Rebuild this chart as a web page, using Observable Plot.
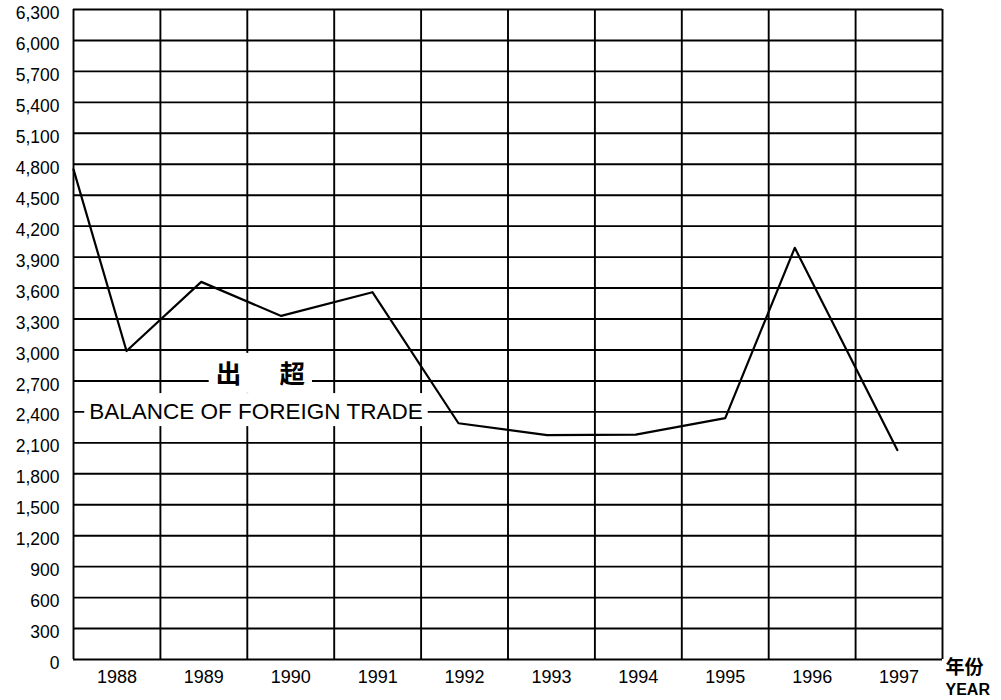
<!DOCTYPE html>
<html><head><meta charset="utf-8">
<script src="https://cdn.jsdelivr.net/npm/d3@7"></script>
<script src="https://cdn.jsdelivr.net/npm/@observablehq/plot@0.6"></script>
<style>body{margin:0;background:#fff}</style>
</head><body>
<div id="chart"></div>
<script>
// Year categories (tick labels, centred in each column)
const years = [1988, 1989, 1990, 1991, 1992, 1993, 1994, 1995, 1996, 1997];
// Column boundaries (vertical grid lines), in year units
const columnEdges = [1987.5, 1988.5, 1989.5, 1990.5, 1991.5, 1992.5, 1993.5, 1994.5, 1995.5, 1996.5, 1997.5];
// Value axis ticks
const yTicks = [0, 300, 600, 900, 1200, 1500, 1800, 2100, 2400, 2700, 3000, 3300, 3600, 3900, 4200, 4500, 4800, 5100, 5400, 5700, 6000, 6300];
// Balance of foreign trade: where each vertex sits (year units) and its value
const pointYear = [1987.5, 1988.11, 1988.97, 1989.89, 1990.94, 1991.93, 1992.95, 1993.97, 1995.0, 1995.8, 1996.98];
const balance   = [4750, 2990, 3660, 3330, 3560, 2290, 2175, 2180, 2340, 3990, 2030];
// In-chart labels
const labelText  = ["出\u3000\u2002超", "BALANCE OF FOREIGN TRADE"];
const labelYear  = [1989.65, 1989.6];
const labelValue = [2760, 2400];

const lineData = pointYear.map((x, i) => ({year: x, value: balance[i]}));
const labels = labelText.map((t, i) => ({t, x: labelYear[i], y: labelValue[i]}));

const chart = Plot.plot({
  width: 1001,
  height: 700,
  marginLeft: 73,
  marginRight: 59,
  marginTop: 9,
  marginBottom: 41,
  x: {domain: [1987.5, 1997.5], label: null},
  y: {domain: [0, 6300], label: null},
  style: {fontFamily: "'Liberation Sans', Arial, 'Noto Sans CJK SC', sans-serif", background: "#fff", color: "#000"},
  marks: [
    Plot.ruleY(yTicks, {stroke: "#000", strokeWidth: 1.9}),
    Plot.ruleX(columnEdges, {stroke: "#000", strokeWidth: 1.9}),
    Plot.line(lineData, {x: "year", y: "value", stroke: "#000", strokeWidth: 2.2}),
    Plot.axisX(years, {tickSize: 0, tickPadding: 11, fontSize: 18, tickFormat: d => String(d), label: null}),
    Plot.axisY(yTicks, {tickSize: 0, tickPadding: 14, dy: 4, fontSize: 17.5, tickFormat: d3.format(","), label: null}),
    Plot.text(labels.slice(0, 1), {x: "x", y: "y", text: "t", fontSize: 25.5, fontWeight: "bold",
      fontFamily: "'Noto Sans CJK SC', sans-serif", textAnchor: "middle", lineAnchor: "middle", fill: "#000"}),
    Plot.text(labels.slice(1), {x: "x", y: "y", text: "t", fontSize: 22.5,
      textAnchor: "middle", lineAnchor: "middle", fill: "#000"}),
    Plot.text(["年份"], {text: d => d, frameAnchor: "bottom-right", textAnchor: "start", lineAnchor: "middle",
      dx: 3, dy: 8.5, fontSize: 19, fontWeight: "bold", fontFamily: "'Noto Sans CJK SC', sans-serif"}),
    Plot.text(["YEAR"], {text: d => d, frameAnchor: "bottom-right", textAnchor: "start", lineAnchor: "middle",
      dx: 3, dy: 30, fontSize: 16, fontWeight: "bold"})
  ]
});

document.getElementById("chart").append(chart);

// White knock-out boxes behind the in-chart labels, sized from the rendered text
const svgRoot = chart.tagName.toLowerCase() === "svg" ? chart : chart.querySelector("svg");
svgRoot.querySelectorAll("text").forEach(t => {
  if (!labelText.includes(t.textContent)) return;
  const b = t.getBBox();
  const cjk = t.textContent === labelText[0];
  const padX = cjk ? 7 : 5, padTop = cjk ? 0 : 6, padBottom = cjk ? 3 : 2;
  const r = document.createElementNS("http://www.w3.org/2000/svg", "rect");
  r.setAttribute("x", b.x - padX);
  r.setAttribute("y", b.y - padTop);
  r.setAttribute("width", b.width + 2 * padX);
  r.setAttribute("height", b.height + padTop + padBottom);
  r.setAttribute("fill", "#fff");
  const tr = t.getAttribute("transform");
  if (tr) r.setAttribute("transform", tr);
  t.parentNode.insertBefore(r, t);
});
</script>
</body></html>
